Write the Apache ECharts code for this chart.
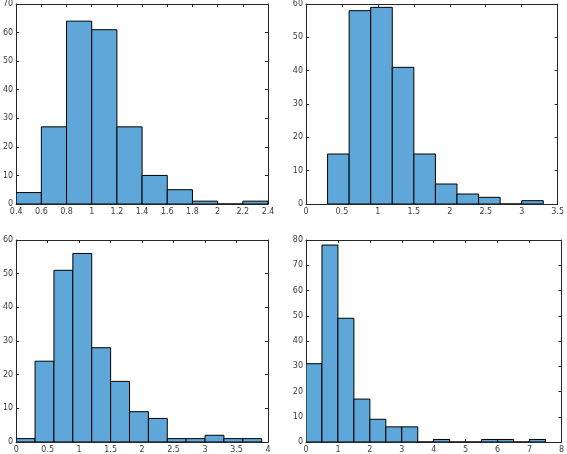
<!DOCTYPE html>
<html>
<head>
<meta charset="utf-8">
<script src="https://cdn.jsdelivr.net/npm/echarts@6/dist/echarts.min.js"></script>
<style>
html,body{margin:0;padding:0;background:#fff;}
#c{width:567px;height:454px;}
</style>
</head>
<body>
<div id="c"></div>
<script>
// Panel 1 (top-left)
const edges1 = [0.4, 0.6, 0.8, 1.0, 1.2, 1.4, 1.6, 1.8, 2.0, 2.2, 2.4];
const counts1 = [4, 27, 64, 61, 27, 10, 5, 1, 0, 1];
// Panel 2 (top-right)
const edges2 = [0.3, 0.6, 0.9, 1.2, 1.5, 1.8, 2.1, 2.4, 2.7, 3.0, 3.3];
const counts2 = [15, 58, 59, 41, 15, 6, 3, 2, 0, 1];
// Panel 3 (bottom-left)
const edges3 = [0, 0.3, 0.6, 0.9, 1.2, 1.5, 1.8, 2.1, 2.4, 2.7, 3.0, 3.3, 3.6, 3.9];
const counts3 = [1, 24, 51, 56, 28, 18, 9, 7, 1, 1, 2, 1, 1];
// Panel 4 (bottom-right)
const edges4 = [0, 0.5, 1, 1.5, 2, 2.5, 3, 3.5, 4, 4.5, 5, 5.5, 6, 6.5, 7, 7.5];
const counts4 = [31, 78, 49, 17, 9, 6, 6, 0, 1, 0, 0, 1, 1, 0, 1];

// Axis ranges / tick steps
const xRanges = [[0.4, 2.4, 0.2], [0, 3.5, 0.5], [0, 4, 0.5], [0, 8, 1]];
const yRanges = [[0, 70, 10], [0, 60, 10], [0, 60, 10], [0, 80, 10]];

const panels = [[edges1, counts1], [edges2, counts2], [edges3, counts3], [edges4, counts4]];

const grids = [
  {left: 12, top: 3, width: 256, height: 201},
  {left: 306, top: 3, width: 256, height: 201},
  {left: 12, top: 240, width: 256, height: 202},
  {left: 306, top: 240, width: 256, height: 202}
];

const axisColor = '#262626';
const labelStyle = {color: '#404040', fontSize: 8, fontFamily: 'DejaVu Sans'};
const fmt = v => String(Math.round(v * 1000) / 1000);

const xAxis = [], yAxis = [], series = [];
panels.forEach((p, i) => {
  const [xmin, xmax, xi] = xRanges[i];
  const [ymin, ymax, yi] = yRanges[i];
  const common = {
    axisLine: {show: true, onZero: false, lineStyle: {color: axisColor, width: 1}},
    axisTick: {show: true, inside: true, length: 3, lineStyle: {color: axisColor}},
    splitLine: {show: false}
  };
  xAxis.push(Object.assign({type: 'value', gridIndex: i, position: 'bottom', min: xmin, max: xmax, interval: xi,
    axisLabel: Object.assign({margin: 4, formatter: fmt, showMinLabel: true, showMaxLabel: true}, labelStyle)}, common));
  xAxis.push(Object.assign({type: 'value', gridIndex: i, position: 'top', min: xmin, max: xmax, interval: xi,
    axisLabel: {show: false}}, common));
  yAxis.push(Object.assign({type: 'value', gridIndex: i, position: 'left', min: ymin, max: ymax, interval: yi,
    axisLabel: Object.assign({margin: 3, showMinLabel: true, showMaxLabel: true}, labelStyle)}, common));
  yAxis.push(Object.assign({type: 'value', gridIndex: i, position: 'right', min: ymin, max: ymax, interval: yi,
    axisLabel: {show: false}}, common));
  const data = p[1].map((c, k) => [p[0][k], p[0][k + 1], c]);
  series.push({
    type: 'custom',
    xAxisIndex: i * 2,
    yAxisIndex: i * 2,
    data: data,
    encode: {x: [0, 1], y: 2},
    clip: true,
    renderItem: function (params, api) {
      const a = api.coord([api.value(0), api.value(2)]);
      const b = api.coord([api.value(1), 0]);
      return {
        type: 'rect',
        shape: {x: a[0], y: a[1], width: b[0] - a[0], height: b[1] - a[1]},
        style: {fill: '#5ea7d8', stroke: '#000000', lineWidth: 1}
      };
    }
  });
});

const chart = echarts.init(document.getElementById('c'), null, {renderer: 'canvas'});
chart.setOption({
  animation: false,
  backgroundColor: '#ffffff',
  grid: grids,
  xAxis: xAxis,
  yAxis: yAxis,
  series: series
});
</script>
</body>
</html>
